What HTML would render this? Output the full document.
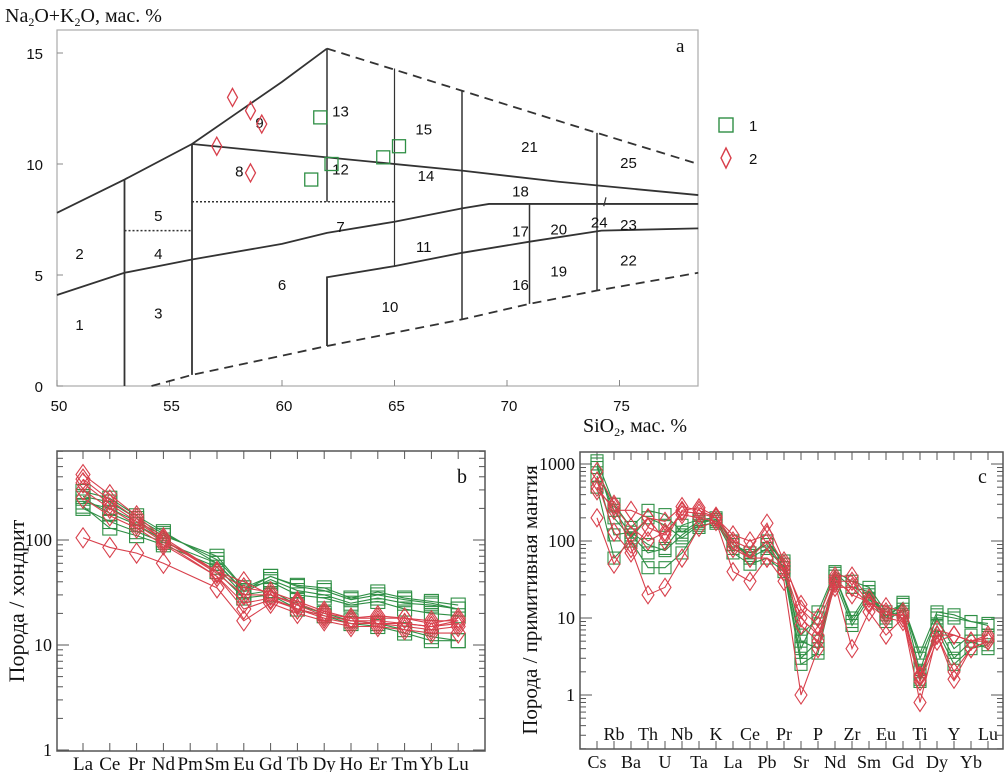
<!DOCTYPE html>
<html><head><meta charset="utf-8">
<style>
html,body{margin:0;padding:0;background:#fff;}
svg{display:block;}
text{font-family:"Liberation Serif",serif;fill:#111;}
.sans{font-family:"Liberation Sans",sans-serif;}
</style></head>
<body>
<svg id="fig" width="1005" height="772" viewBox="0 0 1005 772" xmlns="http://www.w3.org/2000/svg">
<g id="pa"></g>
<g id="pb"></g>
<g id="pc"></g>
</svg>
<script>
// ---------- data: panel a (TAS) ----------
const tasGreenSi = [61.7, 62.2, 61.3, 64.5, 65.2];
const tasGreenAlk = [12.1, 10.0, 9.3, 10.3, 10.8];
const tasRedSi = [57.8, 58.6, 59.1, 57.1, 58.6];
const tasRedAlk = [13.0, 12.4, 11.8, 10.8, 9.6];
const tasXTicks = [50, 55, 60, 65, 70, 75];
const tasYTicks = [0, 5, 10, 15];
const fieldNames = ["1","2","3","4","5","6","7","8","9","10","11","12","13","14","15","16","17","18","19","20","21","22","23","24","25"];
const fieldSi = [51,51,54.5,54.5,54.5,60,62.6,58.1,59,64.8,66.3,62.6,62.6,66.4,66.3,70.6,70.6,70.6,72.3,72.3,71,75.4,75.4,74.1,75.4];
const fieldAlk = [2.8,6.0,3.3,6.0,7.7,4.6,7.2,9.7,11.9,3.6,6.3,9.8,12.4,9.5,11.6,4.6,7.0,8.8,5.2,7.1,10.8,5.7,7.3,7.4,10.1];

// ---------- data: panel b (REE) ----------
const reeLabels = ["La","Ce","Pr","Nd","Pm","Sm","Eu","Gd","Tb","Dy","Ho","Er","Tm","Yb","Lu"];
const reeG1 = [230,200,150,110,null,70,35,45,37,35,28,32,28,26,24];
const reeG2 = [200,150,120,95,null,60,32,42,33,30,25,28,25,24,22];
const reeG3 = [260,230,160,115,null,65,35,40,30,28,24,26,22,20,19];
const reeG4 = [210,130,110,90,null,55,30,33,24,20,17,16,14,12,11];
const reeG5 = [250,180,140,100,null,50,28,30,22,19,16,15,13,11,11];
const reeG6 = [290,250,170,120,null,60,33,45,36,33,27,30,27,25,22];
const reeR1 = [420,270,170,105,null,50,40,30,25,20,18,18,18,17,17];
const reeR2 = [380,240,160,100,null,48,30,30,24,19,17,17,16,15,17];
const reeR3 = [300,200,140,95,null,45,25,28,22,19,17,16,16,15,16];
const reeR4 = [105,85,75,60,null,35,17,25,20,17,15,15,14,13,13];
const reeR5 = [350,220,150,100,null,50,35,32,26,21,18,19,18,16,18];
const reeR6 = [250,170,130,90,null,45,22,27,22,18,16,16,15,14,15];
const reeYTicks = [1, 10, 100];

// ---------- data: panel c (spider) ----------
const spLabels = ["Cs","Rb","Ba","Th","U","Nb","Ta","K","La","Ce","Pb","Pr","Sr","P","Nd","Zr","Sm","Eu","Gd","Ti","Dy","Y","Yb","Lu"];
const spG1 = [1100,300,150,250,220,130,180,190,80,60,100,50,4,12,40,30,25,12,15,3.5,12,11,9,8];
const spG2 = [900,250,120,70,80,160,190,200,90,70,90,45,3,5,35,9,20,10,16,2,11,10,9,8.5];
const spG3 = [500,60,100,45,45,70,150,180,70,50,60,40,2.5,3.5,30,8,18,9,13,1.6,8,3,5,4];
const spG4 = [700,120,130,90,75,120,170,190,100,60,80,45,5,4,35,10,22,11,12,1.5,7,2.5,4,4.5];
const spG5 = [1000,200,110,200,160,110,160,170,90,65,100,55,6,10,38,25,22,10,15,3,10,4,6,6];
const spR1 = [200,50,120,200,180,280,250,200,120,100,120,50,15,10,35,35,18,14,12,1.8,7,6,5,6];
const spR2 = [800,300,80,20,25,60,150,180,40,30,60,30,1,4,28,4,12,6,10,0.8,6,1.6,4,5];
const spR3 = [500,250,250,200,100,250,270,210,100,80,170,55,13,8,30,30,16,12,10,1.8,6,6,5,5.5];
const spR4 = [450,280,150,100,130,220,200,180,80,60,60,45,10,6,25,25,15,10,9,1.5,5,6,5,5];
const spR5 = [600,130,70,150,120,240,230,200,90,60,100,40,8,5,32,20,16,11,11,1.7,6,2,4,5];
const spYTicks = [1, 10, 100, 1000];

const GREEN = "#2f8f45", RED = "#d8404c";
const NS = "http://www.w3.org/2000/svg";
function mk(tag, attrs, parent){ const e=document.createElementNS(NS,tag); for(const k in attrs) e.setAttribute(k,attrs[k]); parent.appendChild(e); return e; }

// ================= Panel a =================
(function(){
  const g = document.getElementById('pa');
  const X = s => 57 + 22.5*(s-50);
  const Y = v => 386 - 22.2*v;
  const L = 57, R = 698, T = 30, B = 386;
  const frame = mk('rect',{x:L,y:T,width:R-L,height:B-T,fill:'none',stroke:'#aaa','stroke-width':1.2},g);
  
  
  tasXTicks.forEach(t=>{
    mk('line',{x1:X(t),y1:B,x2:X(t),y2:B-6,stroke:'#888'},g);
    const tx = mk('text',{x:X(t)+2,y:B+25,'font-size':15,'text-anchor':'middle',class:'sans'},g);
    tx.textContent = t;
    
    
  });
  tasYTicks.forEach(t=>{
    mk('line',{x1:L,y1:Y(t),x2:L+6,y2:Y(t),stroke:'#888'},g);
    const tx = mk('text',{x:L-14,y:Y(t)+6,'font-size':15,'text-anchor':'end',class:'sans'},g);
    tx.textContent = t;
    
    
  });
  function poly(pts, opts, name){
    const p = mk('polyline',{points:pts.map(q=>X(q[0])+','+Y(q[1])).join(' '),fill:'none',stroke:'#333','stroke-width':opts.w||1.8,'stroke-dasharray':opts.d||'none'},g);
    
    
  }
  poly([[50,7.8],[53,9.3],[56,10.9],[58,12.3],[60,13.7],[62,15.2]],{},'upper-boundary');
  poly([[62,15.2],[65,14.25],[68,13.3],[74,11.4],[78.5,10]],{d:'9,6'},'upper-dashed');
  poly([[54.2,0],[56,0.5],[62,1.8],[68,3.0],[71,3.7],[74,4.3],[78.5,5.1]],{d:'9,6'},'lower-dashed');
  poly([[53,9.3],[53,0]],{},'line-53');
  poly([[56,10.9],[56,0.5]],{},'line-56');
  poly([[62,15.2],[62,8.3]],{w:1.5},'line-62');
  poly([[65,14.3],[65,5.4]],{w:1.2},'line-65');
  poly([[68,13.3],[68,3.0]],{w:1.5},'line-68');
  poly([[71,8.2],[71,3.7]],{w:1.5},'line-71');
  poly([[74,11.4],[74,4.3]],{w:1.5},'line-74');
  poly([[50,4.1],[53,5.1],[56,5.7],[60,6.4],[62,6.9],[65,7.4],[68,8.0],[69.2,8.2],[78.5,8.2]],{},'alkaline-line');
  poly([[62,1.8],[62,4.9],[65,5.4],[68,6.0],[71,6.5],[74.2,7.0],[78.5,7.1]],{},'lower-line');
  poly([[56,10.9],[62,10.3],[68,9.7],[72.3,9.2],[78.5,8.6]],{},'middle-line');
  poly([[53,7.0],[56,7.0]],{w:1.5,d:'2,2'},'dotted-53');
  poly([[56,8.3],[65,8.3]],{w:1.5,d:'2,2'},'dotted-56');
  poly([[74.3,8.1],[74.4,8.5]],{w:1.2},'tick-24');
  fieldNames.forEach((n,i)=>{
    const t = mk('text',{x:X(fieldSi[i]),y:Y(fieldAlk[i])+6,'font-size':15,'text-anchor':'middle',class:'sans'},g);
    t.textContent = n;
    
    
  });
  tasGreenSi.forEach((s,i)=>{
    const r = mk('rect',{x:X(s)-6.5,y:Y(tasGreenAlk[i])-6.5,width:13,height:13,fill:'none',stroke:GREEN,'stroke-width':1.3},g);
    
    
  });
  tasRedSi.forEach((s,i)=>{
    const cx=X(s), cy=Y(tasRedAlk[i]);
    const p = mk('polygon',{points:`${cx},${cy-9} ${cx+5},${cy} ${cx},${cy+9} ${cx-5},${cy}`,fill:'none',stroke:RED,'stroke-width':1.3},g);
    
    
  });
  let t = mk('text',{x:5,y:22,'font-size':20},g);
  t.innerHTML = 'Na<tspan font-size="12" dy="4">2</tspan><tspan dy="-4">O+K</tspan><tspan font-size="12" dy="4">2</tspan><tspan dy="-4">O, мас. %</tspan>';
  
  
  t = mk('text',{x:583,y:432,'font-size':20},g);
  t.innerHTML = 'SiO<tspan font-size="12" dy="4">2</tspan><tspan dy="-4">, мас. %</tspan>';
  
  
  t = mk('text',{x:676,y:52,'font-size':19},g);
  t.textContent='a';
  
  
  let r = mk('rect',{x:719,y:118,width:14,height:14,fill:'none',stroke:GREEN,'stroke-width':1.4},g);
  
  
  t = mk('text',{x:749,y:131,'font-size':15,class:'sans'},g); t.textContent='1';
  
  
  r = mk('polygon',{points:'726,148 731,158 726,168 721,158',fill:'none',stroke:RED,'stroke-width':1.4},g);
  
  
  t = mk('text',{x:749,y:164,'font-size':15,class:'sans'},g); t.textContent='2';
  
  
})();

// ============ generic log chart ============
function logChart(gid, cfg){
  const g = document.getElementById(gid);
  const {L,R,T,B,x0,dx,y1,dec,labels,ticks,greens,reds,sq,dw,dh} = cfg;
  const X = i => x0 + dx*i;
  const Y = v => y1 - dec*Math.log10(v);
  const f = mk('rect',{x:L,y:T,width:R-L,height:B-T,fill:'none',stroke:'#555','stroke-width':1.5},g);
  
  
  const lo = Math.log10(ticks[0]) - 1;
  for(let d=lo; d<=Math.log10(ticks[ticks.length-1])+1; d++){
    for(let m=1;m<10;m++){
      const v=m*Math.pow(10,d), y=Y(v);
      if(y<T||y>B) continue;
      const len = m===1?12:6;
      mk('line',{x1:L,y1:y,x2:L+len,y2:y,stroke:'#555'},g);
      mk('line',{x1:R,y1:y,x2:R-len,y2:y,stroke:'#555'},g);
    }
  }
  ticks.forEach(t=>{
    const tx = mk('text',{x:L-5,y:Y(t)+6,'font-size':cfg.tfs,'text-anchor':'end'},g);
    tx.textContent=t;
    
    
  });
  labels.forEach((lb,i)=>{
    mk('line',{x1:X(i),y1:B,x2:X(i),y2:B-8,stroke:'#555'},g);
    mk('line',{x1:X(i),y1:T,x2:X(i),y2:T+8,stroke:'#555'},g);
    const yy = cfg.stagger ? (i%2===0 ? B+19 : B-9) : B+19;
    const tx = mk('text',{x:X(i),y:yy,'font-size':cfg.fs,'text-anchor':'middle'},g);
    tx.textContent=lb;
    
    
  });
  function series(arr,color,kind){
    const pts=[]; arr.forEach((v,i)=>{ if(v!=null) pts.push(X(i)+','+Y(v)); });
    const pl = mk('polyline',{points:pts.join(' '),fill:'none',stroke:color,'stroke-width':1.1},g);
    
    
    arr.forEach((v,i)=>{
      if(v==null) return;
      const cx=X(i), cy=Y(v);
      let m;
      if(kind==='green') m = mk('rect',{x:cx-sq/2,y:cy-sq/2,width:sq,height:sq,fill:'none',stroke:color,'stroke-width':1.1},g);
      else m = mk('polygon',{points:`${cx},${cy-dh} ${cx+dw},${cy} ${cx},${cy+dh} ${cx-dw},${cy}`,fill:'none',stroke:color,'stroke-width':1.1},g);
      
      
    });
  }
  greens.forEach(s=>series(s,GREEN,'green'));
  reds.forEach(s=>series(s,RED,'red'));
  const yt = mk('text',{transform:`translate(${cfg.ytx},${cfg.yty}) rotate(-90)`,'font-size':cfg.ytfs,'text-anchor':'middle'},g);
  yt.textContent = cfg.ytitle;
  
  
  const pl = mk('text',{x:cfg.plx,y:cfg.ply,'font-size':20},g);
  pl.textContent = cfg.pl;
  
  
}

logChart('pb',{L:57,R:485,T:451,B:751,x0:83,dx:26.8,y1:750,dec:105,labels:reeLabels,ticks:reeYTicks,
  greens:[reeG1,reeG2,reeG3,reeG4,reeG5,reeG6],reds:[reeR1,reeR2,reeR3,reeR4,reeR5,reeR6],
  sq:14,dw:7,dh:10,fs:19,tfs:18,stagger:false,ytx:24,yty:601,ytfs:22,ytitle:'Порода / хондрит',plx:457,ply:483,pl:'b'});
logChart('pc',{L:580,R:1003,T:452,B:749,x0:597,dx:17,y1:695,dec:77,labels:spLabels,ticks:spYTicks,
  greens:[spG1,spG2,spG3,spG4,spG5],reds:[spR1,spR2,spR3,spR4,spR5],
  sq:12,dw:6,dh:9,fs:18,tfs:18,stagger:true,ytx:537,yty:600,ytfs:21,ytitle:'Порода / примитивная мантия',plx:978,ply:483,pl:'c'});
</script>
</body></html>
